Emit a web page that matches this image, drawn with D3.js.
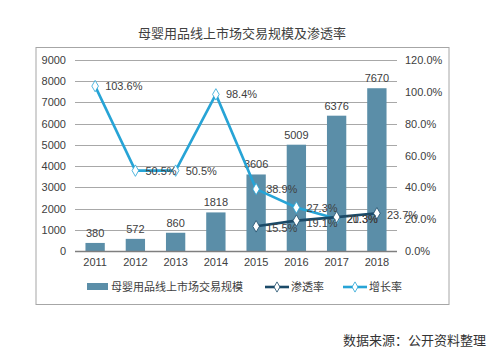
<!DOCTYPE html>
<html><head><meta charset="utf-8">
<script src="https://cdn.jsdelivr.net/npm/d3@7/dist/d3.min.js"></script>
<style>body{margin:0;background:#fff;}svg{display:block;font-family:"Noto Sans CJK SC","Microsoft YaHei",sans-serif;}</style>
</head><body><svg id="c" width="500" height="359"></svg>
<script>
const years = ["2011","2012","2013","2014","2015","2016","2017","2018"];
const scale = [380,572,860,1818,3606,5009,6376,7670];
const penYears = ["2015","2016","2017","2018"];
const penetration = [15.5,19.1,21.3,23.7];
const growthYears = ["2011","2012","2013","2014","2015","2016","2017"];
const growth = [103.6,50.5,50.5,98.4,38.9,27.3,20.3];
const leftTicks = [0,1000,2000,3000,4000,5000,6000,7000,8000,9000];
const rightTicks = [0,20,40,60,80,100,120];

const svg = d3.select("#c");
const m = {l:75, r:397, t:60, b:251};
const x = d3.scaleBand().domain(years).range([m.l,m.r]).paddingInner(0.52).paddingOuter(0.26);
const y = d3.scaleLinear().domain([0,9000]).range([m.b,m.t]);
const y2 = d3.scaleLinear().domain([0,120]).range([m.b,m.t]);
const cx = d => x(d)+x.bandwidth()/2;

const barColor="#5b8ea8", darkColor="#1b4a68", lightColor="#27a4d6";
const latin = "Liberation Sans, Arial, sans-serif";

// frame
svg.append("rect").attr("x",36).attr("y",47.5).attr("width",413).attr("height",257).attr("fill","none").attr("stroke","#a6a6a6");

// title
svg.append("text").attr("x",242).attr("y",38).attr("text-anchor","middle").attr("font-size",13).attr("fill","#404040").text("母婴用品线上市场交易规模及渗透率");

// grid
svg.append("g").selectAll("line").data(leftTicks.slice(1)).join("line")
  .attr("x1",m.l).attr("x2",m.r).attr("y1",d=>Math.round(y(d))+0.5).attr("y2",d=>Math.round(y(d))+0.5)
  .attr("stroke","#a8a8a8").attr("stroke-width",1);

// left axis
const ga = svg.append("g").attr("transform",`translate(${m.l-9},0)`)
  .call(d3.axisLeft(y).tickValues(leftTicks).tickFormat(d3.format("d")).tickSize(0).tickPadding(0));
ga.select(".domain").remove();
ga.selectAll("text").attr("font-size",11).attr("fill","#404040").attr("font-family",latin);

// right axis
const gr = svg.append("g").attr("transform",`translate(${m.r+8},0)`)
  .call(d3.axisRight(y2).tickValues(rightTicks).tickFormat(d=>d.toFixed(1)+"%").tickSize(0).tickPadding(0));
gr.select(".domain").remove();
gr.selectAll("text").attr("font-size",11).attr("fill","#404040").attr("font-family",latin);

// bars
svg.append("g").selectAll("rect").data(years).join("rect")
  .attr("x",d=>x(d)).attr("width",x.bandwidth())
  .attr("y",(d,i)=>y(scale[i])).attr("height",(d,i)=>m.b-y(scale[i]))
  .attr("fill",barColor);

// x axis
svg.append("line").attr("x1",m.l).attr("x2",m.r).attr("y1",m.b+0.5).attr("y2",m.b+0.5).attr("stroke","#7f7f7f").attr("stroke-width",1.5);
const gx = svg.append("g").attr("transform",`translate(0,${m.b})`).call(d3.axisBottom(x).tickSize(0).tickPadding(7));
gx.select(".domain").remove();
gx.selectAll("text").attr("font-size",11).attr("fill","#404040").attr("font-family",latin);

// bar labels
svg.append("g").selectAll("text").data(years).join("text")
  .attr("x",d=>cx(d)).attr("y",(d,i)=>y(scale[i])-6).attr("text-anchor","middle")
  .attr("font-size",11).attr("fill","#404040").attr("font-family",latin)
  .text((d,i)=>scale[i]);

function series(ys, vals, color, labelDy){
  const pts = ys.map((d,i)=>[cx(d), y2(vals[i])]);
  svg.append("path").attr("d",d3.line()(pts)).attr("fill","none").attr("stroke",color).attr("stroke-width",2.6);
  svg.append("g").selectAll("path").data(pts).join("path")
    .attr("d",d3.symbol().type(d3.symbolDiamond).size(38))
    .attr("transform",p=>`translate(${p[0]},${p[1]})`)
    .attr("fill","#fff").attr("stroke",color).attr("stroke-width",0.8);
  svg.append("g").selectAll("text").data(pts).join("text")
    .attr("x",p=>p[0]+10).attr("y",p=>p[1]+labelDy)
    .attr("font-size",11).attr("fill","#404040").attr("font-family",latin)
    .text((p,i)=>vals[i].toFixed(1)+"%");
}
series(growthYears, growth, lightColor, 4);
series(penYears, penetration, darkColor, 6);

// legend
const lg = svg.append("g").attr("font-size",11).attr("fill","#404040");
lg.append("rect").attr("x",87).attr("y",283).attr("width",21).attr("height",7).attr("fill",barColor);
lg.append("text").attr("x",111).attr("y",291).text("母婴用品线上市场交易规模");
lg.append("line").attr("x1",265).attr("x2",289).attr("y1",287).attr("y2",287).attr("stroke",darkColor).attr("stroke-width",2.6);
lg.append("path").attr("d",d3.symbol().type(d3.symbolDiamond).size(30)).attr("transform","translate(277,287)").attr("fill","#fff").attr("stroke",darkColor).attr("stroke-width",0.8);
lg.append("text").attr("x",291).attr("y",291).text("渗透率");
lg.append("line").attr("x1",343).attr("x2",367).attr("y1",287).attr("y2",287).attr("stroke",lightColor).attr("stroke-width",2.6);
lg.append("path").attr("d",d3.symbol().type(d3.symbolDiamond).size(30)).attr("transform","translate(355,287)").attr("fill","#fff").attr("stroke",lightColor).attr("stroke-width",0.8);
lg.append("text").attr("x",369).attr("y",291).text("增长率");

// source
svg.append("text").attr("x",343).attr("y",345).attr("font-size",13).attr("fill","#333").text("数据来源：公开资料整理");
</script></body></html>
